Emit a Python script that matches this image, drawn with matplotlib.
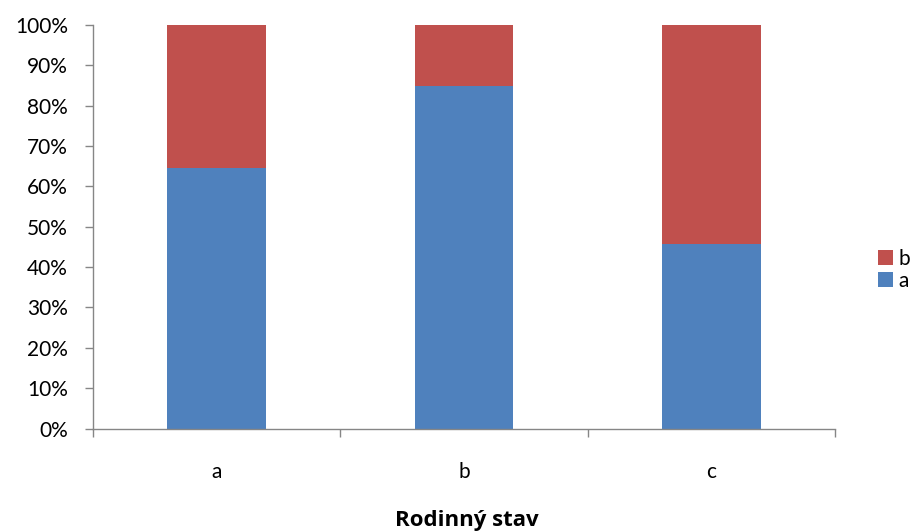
import matplotlib
matplotlib.use("Agg")
import matplotlib.pyplot as plt
from matplotlib.ticker import PercentFormatter

categories = ["a", "b", "c"]
share_a = [64.6, 84.9, 45.7]
share_b = [35.4, 15.1, 54.3]

plt.rcParams["font.family"] = ["Lato", "DejaVu Sans"]

fig = plt.figure(figsize=(9.1, 5.32), dpi=100)
ax = fig.add_axes([0.1022, 0.1945, 0.8154, 0.7585])

x = range(len(categories))
ax.bar(x, share_a, width=0.4, color="#4F81BD", label="a")
ax.bar(x, share_b, width=0.4, bottom=share_a, color="#C0504D", label="b")

ax.set_xlim(-0.5, 2.5)
ax.set_ylim(0, 100)
ax.set_yticks(range(0, 101, 10))
ax.yaxis.set_major_formatter(PercentFormatter(decimals=0))
ax.set_xticks([-0.5, 0.5, 1.5, 2.5])
ax.set_xticklabels([])
ax.set_xticks(list(x), minor=True)
ax.set_xticklabels(categories, minor=True)
ax.tick_params(axis="x", which="minor", length=0, pad=24, labelsize=15)
ax.tick_params(axis="x", which="major", length=6, width=1, color="#868686", direction="out")
ax.tick_params(axis="y", length=6, width=1, color="#868686", labelsize=15, pad=12)

for side in ["top", "right"]:
    ax.spines[side].set_visible(False)
for side in ["left", "bottom"]:
    ax.spines[side].set_color("#868686")
    ax.spines[side].set_linewidth(1)

# axis title near the bottom edge, kept just inside it
fig.text(467 / 910, 1 - 526 / 532, "Rodinný stav", ha="center", va="baseline",
         fontsize=16, fontweight="bold", family=["Open Sans", "DejaVu Sans"])

handles, labels = ax.get_legend_handles_labels()
ax.legend(handles[::-1], labels[::-1], loc="center left",
          bbox_to_anchor=(878 / 910, 1 - 270 / 532), bbox_transform=fig.transFigure,
          frameon=False, fontsize=15, handlelength=0.7, handleheight=0.7,
          handletextpad=0.3, labelspacing=0.1, borderpad=0, borderaxespad=0)

fig.savefig("out.png", dpi=100)
